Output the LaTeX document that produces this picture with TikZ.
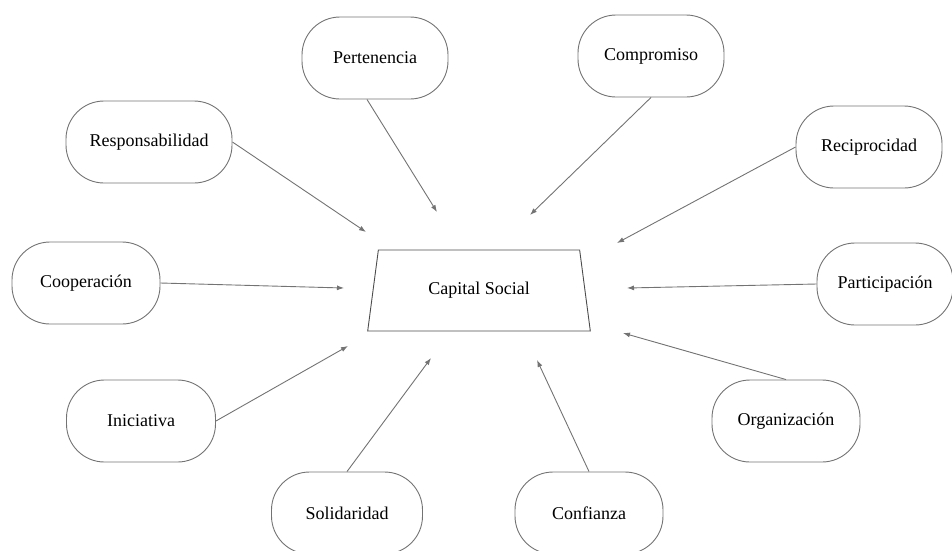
\documentclass[tikz,border=0pt]{standalone}
\usepackage{fontspec}
\setmainfont{Liberation Serif}
\usetikzlibrary{shapes.geometric,arrows.meta}

\begin{document}
\begin{tikzpicture}[x=1pt,y=-1pt,font=\fontsize{18}{20}\selectfont,>={Latex[length=7pt,width=5pt]}]
    \tikzset{
      caja/.style={draw=black!55,line width=0.9pt,rounded corners=38pt,align=center,
                   minimum width=146pt,minimum height=82pt,inner sep=2pt},
      centro/.style={draw=black!70,line width=0.9pt,trapezium,trapezium stretches=true,
                   trapezium angle=76,minimum width=223pt,minimum height=81pt},
      fl/.style={->,draw=black!55,line width=0.9pt}}
    \useasboundingbox (0,0) rectangle (952,550);
    \node[centro] (cs) at (479,290.5) {Capital Social};
    \node[caja] (p1) at (375,58) {Pertenencia};
    \node[caja] (p2) at (651,56) {Compromiso};
    \node[caja,minimum width=166pt] (p3) at (149,142) {Responsabilidad};
    \node[caja] (p4) at (869,147) {Reciprocidad};
    \node[caja,minimum width=148pt] (p5) at (86,283) {Cooperación};
    \node[caja,minimum width=136pt] (p6) at (885,284) {Participación};
    \node[caja,minimum width=149pt] (p7) at (141,421) {Iniciativa};
    \node[caja,minimum width=148pt] (p8) at (786,421) {Organización};
    \node[caja,minimum width=151pt] (p9) at (347,513) {Solidaridad};
    \node[caja,minimum width=148pt] (p10) at (589,513) {Confianza};
    % puntas de las flechas
    \coordinate (e1) at (437,212);
    \coordinate (e2) at (530,215);
    \coordinate (e3) at (366,232);
    \coordinate (e4) at (617,243);
    \coordinate (e5) at (344,288);
    \coordinate (e6) at (627,288);
    \coordinate (e7) at (348,346);
    \coordinate (e8) at (623,333);
    \coordinate (e9) at (431,358);
    \coordinate (e10) at (537,360);
    \coordinate (s1) at ([xshift=-8pt]p1.south);
    \foreach \a/\b in {s1/e1,p2.south/e2,p3.east/e3,p4.west/e4,p5.east/e5,p6.west/e6,
                       p7.east/e7,p8.north/e8,p9.north/e9,p10.north/e10}
      \draw[fl] (\a) -- (\b);
\end{tikzpicture}
\end{document}
